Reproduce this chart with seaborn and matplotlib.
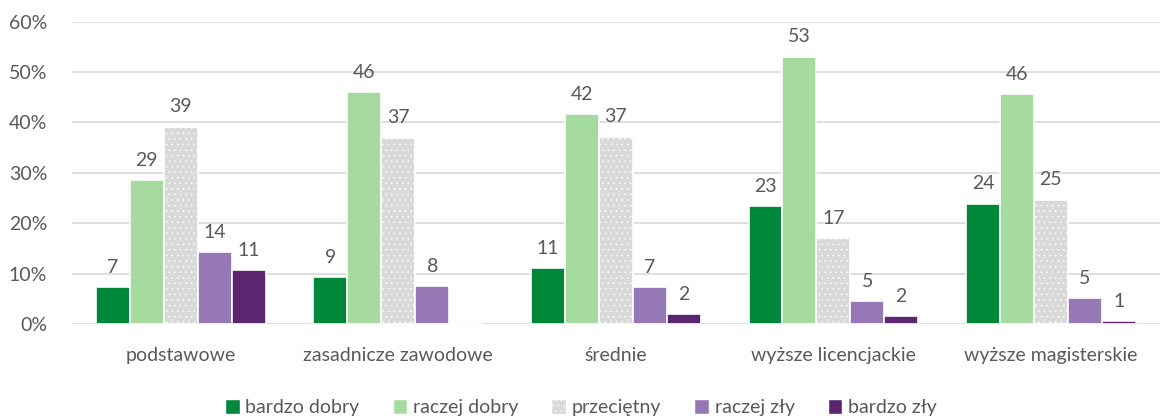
import numpy as np
import pandas as pd
import matplotlib
matplotlib.use("Agg")
import matplotlib.pyplot as plt
import seaborn as sns

# ─── Data ─────────────────────────────────────────────────────────────────────
categories = ["podstawowe", "zasadnicze zawodowe", "średnie",
              "wyższe licencjackie", "wyższe magisterskie"]
series = ["bardzo dobry", "raczej dobry", "przeciętny", "raczej zły", "bardzo zły"]

bardzo_dobry = [7.4, 9.3, 11.1, 23.4, 23.9]
raczej_dobry = [28.6, 46.1, 41.7, 53.1, 45.6]
przecietny   = [39.2, 37.0, 37.2, 17.1, 24.7]
raczej_zly   = [14.2, 7.6, 7.4, 4.6, 5.1]
bardzo_zly   = [10.7, 0.0, 2.0, 1.6, 0.6]

colors = ["#00883a", "#a6dba0", "#d9d9d9", "#9678b6", "#5b2570"]
text_color = "#595959"

values = [bardzo_dobry, raczej_dobry, przecietny, raczej_zly, bardzo_zly]
df = pd.DataFrame({
    "kategoria": np.tile(categories, len(series)),
    "ocena": np.repeat(series, len(categories)),
    "procent": np.concatenate(values),
})

# ─── Plot ─────────────────────────────────────────────────────────────────────
sns.set_style("white")
plt.rcParams["font.family"] = ["Lato", "DejaVu Sans"]
plt.rcParams["hatch.color"] = "#c9c9c9"
plt.rcParams["hatch.linewidth"] = 0.4

fig, ax = plt.subplots(figsize=(11.62, 4.19), dpi=100)
fig.subplots_adjust(left=0.062, right=0.998, top=0.948, bottom=0.227)

sns.barplot(data=df, x="kategoria", y="procent", hue="ocena",
            order=categories, hue_order=series, palette=colors,
            saturation=1, width=0.78, edgecolor="white", linewidth=1.2,
            errorbar=None, legend=False, ax=ax)

# subtle dotted texture on the "przeciętny" bars
for bar in ax.containers[2]:
    bar.set_hatch("...")

for cont in ax.containers:
    labels = [f"{b.get_height():.0f}" if b.get_height() > 0 else "" for b in cont]
    ax.bar_label(cont, labels=labels, padding=8, fontsize=14, color=text_color)

ax.set_ylim(0, 60)
ax.set_xlim(-0.5, 4.5)
ax.set_yticks(range(0, 61, 10))
ax.set_yticklabels([f"{t}%" for t in range(0, 61, 10)])
ax.yaxis.grid(True, color="#d9d9d9", linewidth=1.2)
ax.set_axisbelow(True)
ax.set_xlabel("")
ax.set_ylabel("")
ax.tick_params(axis="both", length=0, labelsize=14, colors=text_color)
ax.tick_params(axis="x", pad=17)
ax.tick_params(axis="y", pad=18)
sns.despine(ax=ax, left=True, bottom=True)

handles = [plt.Rectangle((0, 0), 1, 1, facecolor=c, edgecolor="white",
                         hatch="..." if s == "przeciętny" else None)
           for c, s in zip(colors, series)]
fig.legend(handles, series, loc="lower center", bbox_to_anchor=(0.5, -0.035),
           ncol=5, frameon=False, fontsize=14, labelcolor=text_color,
           handlelength=0.75, handleheight=0.75, handletextpad=0.3,
           columnspacing=1.7)

plt.savefig("out.png", dpi=100)
plt.close()
